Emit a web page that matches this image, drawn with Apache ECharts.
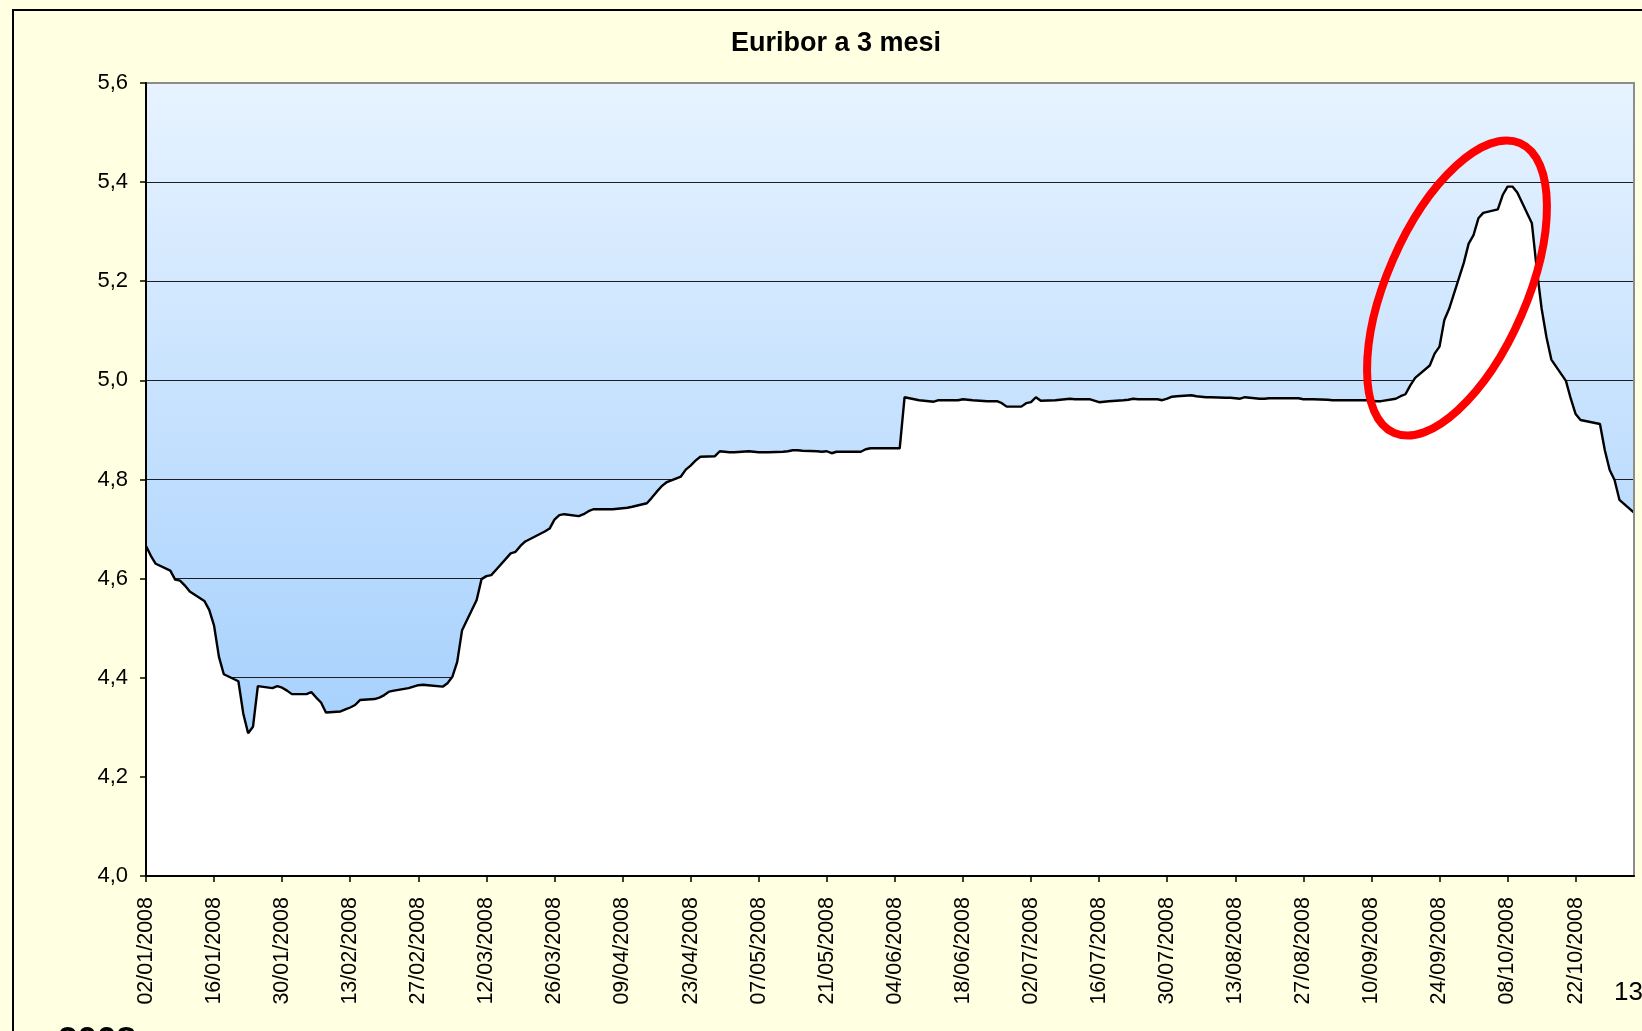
<!DOCTYPE html>
<html>
<head>
<meta charset="utf-8">
<script src="https://cdn.jsdelivr.net/npm/echarts@6/dist/echarts.min.js"></script>
<style>
html,body{margin:0;padding:0;background:#FFFFE1;overflow:hidden;}
#c{width:1642px;height:1031px;}
</style>
</head>
<body>
<div id="c"></div>
<script>
const FONT = '"Liberation Sans", Arial, Helvetica, sans-serif';
const chartTitle = 'Euribor a 3 mesi';
const firstDate = '02/01/2008';
const lastDate = '03/11/2008';
const xTickLabels = ['02/01/2008','16/01/2008','30/01/2008','13/02/2008','27/02/2008','12/03/2008',
  '26/03/2008','09/04/2008','23/04/2008','07/05/2008','21/05/2008','04/06/2008','18/06/2008',
  '02/07/2008','16/07/2008','30/07/2008','13/08/2008','27/08/2008','10/09/2008','24/09/2008',
  '08/10/2008','22/10/2008'];
const yTicks = [4.0, 4.2, 4.4, 4.6, 4.8, 5.0, 5.2, 5.4, 5.6];

// Euribor 3M fixings (weekdays)
const rates = [
  4.666, 4.646, 4.630,
  4.616, 4.598, 4.596, 4.586, 4.574,
  4.555, 4.537, 4.505, 4.442, 4.407,
  4.393, 4.328, 4.288, 4.301, 4.383,
  4.379, 4.383, 4.380, 4.374, 4.367,
  4.367, 4.371, 4.360, 4.350, 4.330,
  4.332, 4.336, 4.340, 4.345, 4.355,
  4.357, 4.360, 4.365, 4.372, 4.374,
  4.379, 4.382, 4.385, 4.386, 4.385,
  4.382, 4.389, 4.402, 4.432, 4.496,
  4.557, 4.599, 4.605, 4.607, 4.618,
  4.651, 4.654, 4.666, 4.675, 4.680,
  4.695, 4.701, 4.719, 4.728, 4.730,
  4.726, 4.730, 4.736, 4.740, 4.740,
  4.740, 4.741, 4.742, 4.743, 4.745,
  4.752, 4.763, 4.775, 4.786, 4.794,
  4.806, 4.820, 4.828, 4.838, 4.846,
  4.847, 4.857, 4.856, 4.855, 4.855,
  4.857, 4.856, 4.855, 4.855, 4.855,
  4.856, 4.857, 4.859, 4.859, 4.858,
  4.857, 4.856, 4.857, 4.853, 4.856,
  4.856, 4.856, 4.856, 4.861, 4.863,
  4.863, 4.863, 4.863, 4.863, 4.966,
  4.960, 4.959, 4.958, 4.957, 4.960,
  4.960, 4.960, 4.962, 4.961, 4.960,
  4.958, 4.958, 4.958, 4.954, 4.947,
  4.947, 4.954, 4.956, 4.966, 4.959,
  4.960, 4.961, 4.962, 4.963, 4.962,
  4.962, 4.959, 4.956, 4.957, 4.958,
  4.960, 4.961, 4.963, 4.962, 4.962,
  4.962, 4.960, 4.963, 4.967, 4.968,
  4.970, 4.968, 4.967, 4.966, 4.966,
  4.965, 4.965, 4.964, 4.963, 4.966,
  4.963, 4.963, 4.964, 4.964, 4.964,
  4.964, 4.964, 4.962, 4.962, 4.962,
  4.961, 4.960, 4.960, 4.960, 4.960,
  4.960, 4.960, 4.959, 4.958, 4.958,
  4.963, 4.968, 4.972, 4.990, 5.005,
  5.030, 5.054, 5.068, 5.122, 5.145,
  5.237, 5.276, 5.293, 5.327, 5.338,
  5.345, 5.374, 5.391, 5.391, 5.379,
  5.317, 5.225, 5.145, 5.087, 5.042,
  4.999, 4.963, 4.932, 4.920, 4.918,
  4.912, 4.859, 4.819, 4.799, 4.759,
  4.733
];

const DAY = 86400000;
function parseDate(s) { const p = s.split('/'); return Date.UTC(+p[2], +p[1] - 1, +p[0]); }
function pad(n) { return (n < 10 ? '0' : '') + n; }
function fmtDate(t) { const d = new Date(t); return pad(d.getUTCDate()) + '/' + pad(d.getUTCMonth() + 1) + '/' + d.getUTCFullYear(); }
const t0 = parseDate(firstDate);
const tEnd = parseDate(lastDate);
function dayIndex(s) { return Math.round((parseDate(s) - t0) / DAY); }

// category dates: every weekday between first and last date
const dates = [];
for (let t = t0; t <= tEnd; t += DAY) {
  const wd = new Date(t).getUTCDay();
  if (wd !== 0 && wd !== 6) dates.push(fmtDate(t));
}

const seriesData = dates.map((s, i) => [dayIndex(s), rates[i]]);
const tickDays = xTickLabels.map(dayIndex);
const maxDay = dayIndex(lastDate);

const chart = echarts.init(document.getElementById('c'), null, { renderer: 'canvas', width: 1642, height: 1031 });

const GL = 146, GT = 83, GW = 1488, GH = 793;

const option = {
  animation: false,
  backgroundColor: '#FFFFE1',
  grid: {
    left: GL, top: GT, width: GW, height: GH,
    containLabel: false,
    outerBoundsMode: 'none',
    show: true,
    borderWidth: 0,
    backgroundColor: new echarts.graphic.LinearGradient(0, 0, 0, 1, [
      { offset: 0, color: '#E7F3FF' },
      { offset: 1, color: '#98C9FD' }
    ])
  },
  xAxis: {
    type: 'value',
    min: 0, max: maxDay, interval: 14,
    z: 10,
    axisLine: { show: true, onZero: false, lineStyle: { color: '#000', width: 2 } },
    axisTick: { show: true, length: 6, customValues: tickDays, lineStyle: { color: '#000', width: 1.5 } },
    axisLabel: {
      customValues: tickDays,
      rotate: 90,
      margin: 21,
      color: '#000',
      fontFamily: FONT,
      fontSize: 21.5,
      formatter: v => fmtDate(t0 + v * DAY)
    },
    splitLine: { show: false }
  },
  yAxis: [
    {
      type: 'value', min: 4, max: 5.6, interval: 0.2, z: 0,
      axisLine: { show: false }, axisTick: { show: false }, axisLabel: { show: false },
      splitLine: { show: true, lineStyle: { color: '#1e1e1e', width: 1 } }
    },
    {
      type: 'value', min: 4, max: 5.6, interval: 0.2, z: 10, position: 'left',
      axisLine: { show: true, lineStyle: { color: '#000', width: 2 } },
      axisTick: { show: true, length: 6, lineStyle: { color: '#000', width: 1.5 } },
      axisLabel: {
        margin: 18, color: '#000', fontFamily: FONT, fontSize: 22,
        formatter: v => v.toFixed(1).replace('.', ',')
      },
      splitLine: { show: false }
    }
  ],
  series: [{
    type: 'line',
    yAxisIndex: 0,
    data: seriesData,
    showSymbol: false,
    symbol: 'none',
    z: 2,
    lineStyle: { color: '#000', width: 2.4 },
    areaStyle: { color: '#FFFFFF', opacity: 1, origin: 'start' }
  }],
  graphic: [
    { type: 'rect', z: 9, silent: true, shape: { x: GL, y: GT, width: GW, height: GH },
      style: { fill: null, stroke: '#8c8c8c', lineWidth: 2 } },
    { type: 'rect', z: 30, silent: true, shape: { x: 13, y: 10, width: 1800, height: 1200 },
      style: { fill: null, stroke: '#000', lineWidth: 2 } },
    { type: 'text', z: 30, x: 836, y: 44, silent: true,
      style: { text: chartTitle, font: 'bold 27px ' + FONT, fill: '#000', align: 'center', verticalAlign: 'middle' } },
    { type: 'ellipse', z: 25, silent: true, x: 1457, y: 288, rotation: -23.5 * Math.PI / 180,
      shape: { cx: 0, cy: 0, rx: 70, ry: 158 },
      style: { fill: null, stroke: '#FF0000', lineWidth: 8 } },
    { type: 'text', z: 30, x: 1614, y: 993, silent: true,
      style: { text: '13', font: '26px ' + FONT, fill: '#000', align: 'left', verticalAlign: 'middle' } },
    { type: 'text', z: 30, x: 58, y: 1041, silent: true,
      style: { text: '2008', font: 'bold 35px ' + FONT, fill: '#000', align: 'left', verticalAlign: 'middle' } }
  ]
};
chart.setOption(option);
</script>
</body>
</html>
